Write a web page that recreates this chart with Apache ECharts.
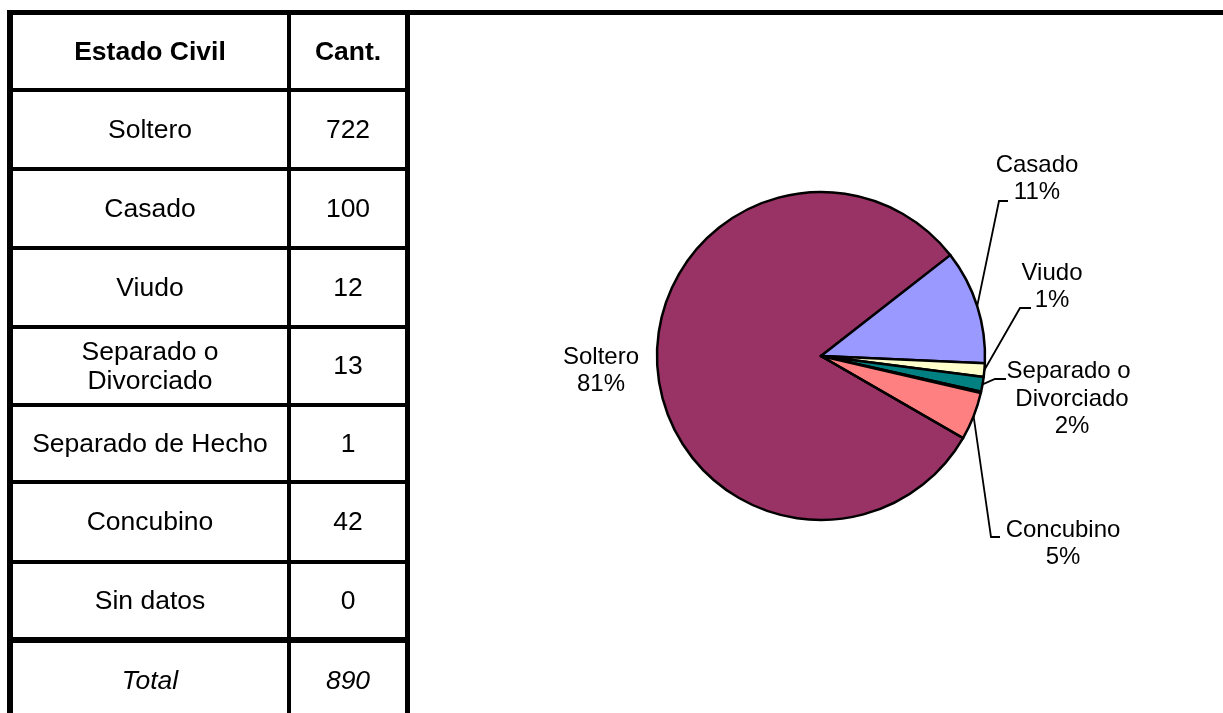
<!DOCTYPE html>
<html>
<head>
<meta charset="utf-8">
<script src="https://cdn.jsdelivr.net/npm/echarts@6/dist/echarts.min.js"></script>
<style>
html,body{margin:0;padding:0;background:#fff;width:1223px;height:713px;overflow:hidden;}
body{font-family:'Liberation Sans',Arial,sans-serif;color:#000;}
#chart{position:absolute;left:0;top:0;width:1223px;height:713px;}
#topline{position:absolute;left:7px;top:10px;right:0;height:5px;background:#000;}
#tbl{position:absolute;left:7px;top:15px;width:403px;height:720px;border-left:6px solid #000;border-right:5px solid #000;box-sizing:border-box;}
.row{display:flex;box-sizing:border-box;border-bottom:4px solid #000;width:392px;}
.cell{display:flex;align-items:center;justify-content:center;text-align:center;box-sizing:border-box;font-size:26.5px;line-height:29.5px;padding:0 12px;}
.c1{width:278px;border-right:4px solid #000;}
.c2{width:114px;}
.hdr .cell{font-weight:bold;}
.tot .cell{font-style:italic;}
</style>
</head>
<body>
<div id="chart"></div>
<div id="topline"></div>
<div id="tbl"></div>
<script>
// ---- data ----
const headers = ['Estado Civil', 'Cant.'];
const categories = ['Soltero', 'Casado', 'Viudo', 'Separado o Divorciado', 'Separado de Hecho', 'Concubino', 'Sin datos'];
const counts = [722, 100, 12, 13, 1, 42, 0];
const pctLabels = [81, 11, 1, 2, null, 5, null];
const totalLabel = 'Total';
const colors = ['#993366', '#9999FF', '#FFFFCC', '#008080', '#660066', '#FF8080', '#0066CC'];

// ---- table ----
const rowHeights = [79, 79, 79, 78, 77, 80, 79];
const tbl = document.getElementById('tbl');
function addRow(cls, a, b, h, bw) {
  const r = document.createElement('div');
  r.className = 'row ' + cls;
  r.style.height = h + 'px';
  if (bw != null) r.style.borderBottomWidth = bw + 'px';
  const c1 = document.createElement('div'); c1.className = 'cell c1'; c1.textContent = a;
  const c2 = document.createElement('div'); c2.className = 'cell c2'; c2.textContent = b;
  r.appendChild(c1); r.appendChild(c2);
  tbl.appendChild(r);
}
addRow('hdr', headers[0], headers[1], 77);
categories.forEach((c, i) => addRow('', c, String(counts[i]), rowHeights[i], i === categories.length - 1 ? 6 : null));
addRow('tot', totalLabel, String(counts.reduce((s, v) => s + v, 0)), 76, 0);

// ---- pie ----
// label placement (layout only)
const labelSpots = {
  'Soltero': { x: 601, y: 371 },
  'Casado': { x: 1037, y: 179, ex: -29, ey: 22, el: 9 },
  'Viudo': { x: 1052, y: 287, ex: -21, ey: 21, el: 11 },
  'Separado o Divorciado': { x: 1072, y: 399, ex: -66, ey: -20, el: 11 },
  'Concubino': { x: 1063, y: 544, ex: -63, ey: -7, el: 9 }
};

const chart = echarts.init(document.getElementById('chart'), null, { renderer: 'canvas' });
chart.setOption({
  animation: false,
  series: [{
    type: 'pie',
    center: [821, 356],
    radius: 164,
    startAngle: 330,
    clockwise: true,
    minAngle: 0,
    avoidLabelOverlap: false,
    stillShowZeroSum: true,
    emphasis: { disabled: true },
    itemStyle: { borderColor: '#000', borderWidth: 2.5 },
    label: {
      position: 'outside',
      formatter: p => p.name + '\n' + pctLabels[p.dataIndex] + '%',
      fontSize: 24,
      lineHeight: 27.5,
      color: '#000',
      fontFamily: 'Liberation Sans, Arial, sans-serif',
      width: 150,
      overflow: 'break',
      align: 'center'
    },
    labelLine: { lineStyle: { color: '#000', width: 1.8 }, length: 10, length2: 10 },
    labelLayout: function (params) {
      const name = categories[params.dataIndex];
      const s = labelSpots[name];
      if (!s) return {};
      const out = { x: s.x, y: s.y, align: 'center', verticalAlign: 'middle' };
      if (s.ex != null && params.labelLinePoints && params.labelLinePoints.length) {
        const p0 = params.labelLinePoints[0];
        const end = [s.x + s.ex, s.y + s.ey];
        const elbow = [end[0] - s.el, end[1]];
        out.labelLinePoints = [p0, elbow, end];
      }
      return out;
    },
    data: categories.map((n, i) => ({
      name: n,
      value: counts[i],
      itemStyle: { color: colors[i] },
      label: { show: pctLabels[i] != null },
      labelLine: { show: pctLabels[i] != null && i !== 0 }
    }))
  }]
});
</script>
</body>
</html>
